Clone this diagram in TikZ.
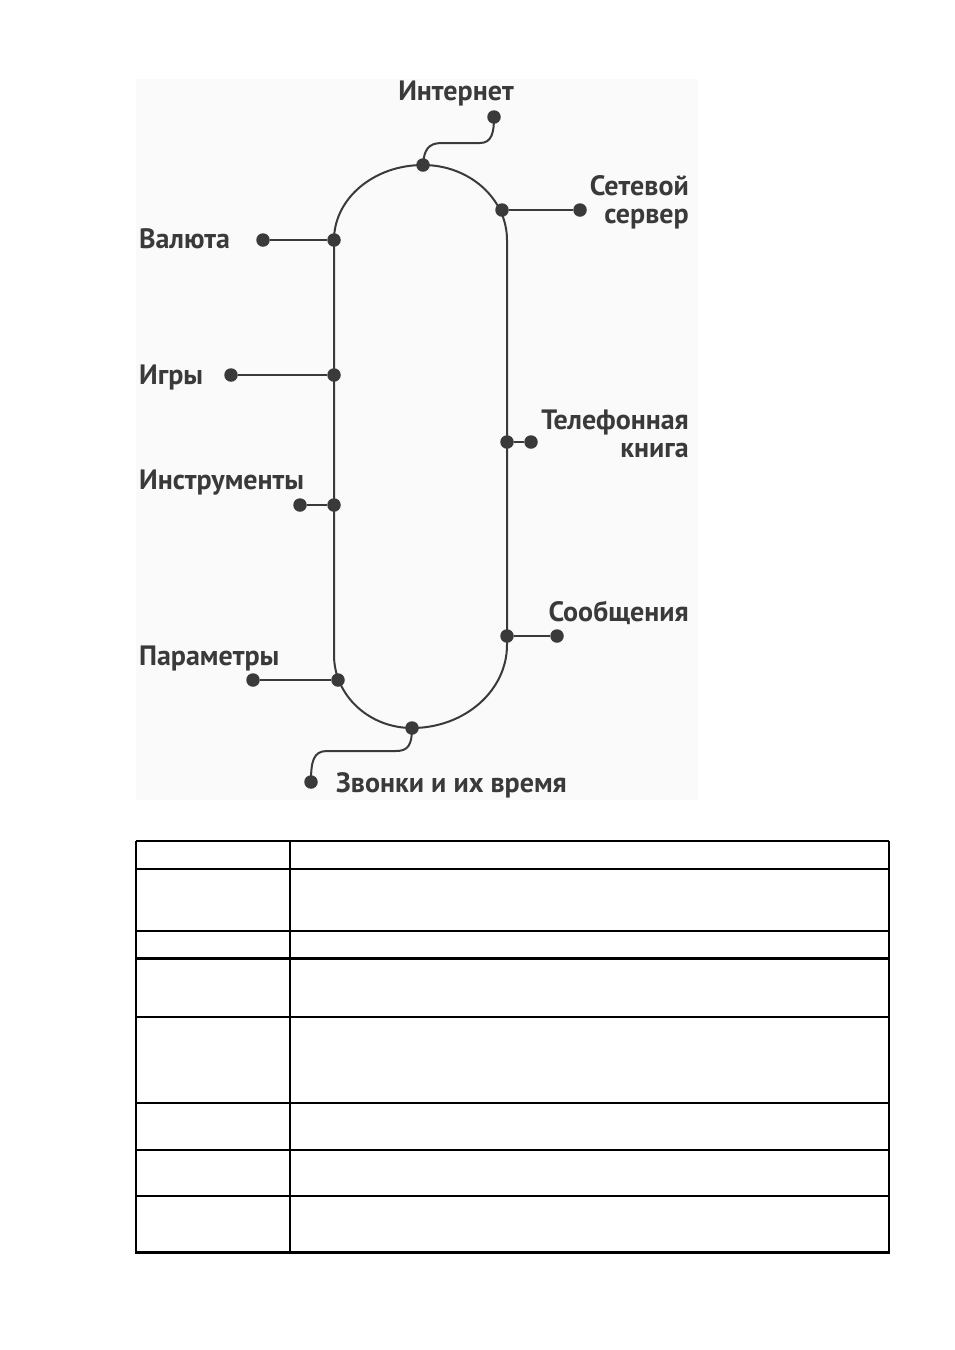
\documentclass[tikz,border=0pt]{standalone}
\usepackage{fontspec}
\setmainfont{PT Sans}
\definecolor{ink}{HTML}{3A3A3A}
\begin{document}
\begin{tikzpicture}[x=1pt,y=-1pt,
  track/.style={draw=ink, line width=2pt},
  link/.style={draw=ink, line width=2pt},
  dot/.style={circle, fill=ink, inner sep=0pt, minimum size=13.5pt},
  lbl/.style={font=\fontsize{28}{28}\selectfont\bfseries, text=ink, inner sep=0pt},
  thinrule/.style={draw=black, line width=1.3pt},
  thickrule/.style={draw=black, line width=3pt}]
\useasboundingbox (0,0) rectangle (954,1350);
\fill[black!2] (136,79) rectangle (698,800);

% track
\draw[track] (507,645) -- (507,240)
  .. controls (507,198.6) and (469.4,165) .. (423,165)
  .. controls (373.8,165) and (334,198.6) .. (334,240)
  -- (334,655)
  .. controls (334,695.3) and (368.9,728) .. (412,728)
  .. controls (464.5,728) and (507,690.8) .. (507,645);

% junction dots
\node[dot] (j-int) at (423,165) {};
\node[dot] (j-net) at (502,210) {};
\node[dot] (j-val) at (334,240) {};
\node[dot] (j-igr) at (334,375) {};
\node[dot] (j-tel) at (507,442) {};
\node[dot] (j-ins) at (334,505) {};
\node[dot] (j-soo) at (507,636) {};
\node[dot] (j-par) at (338,680) {};
\node[dot] (j-zv)  at (412,728) {};

% end dots
\node[dot] (e-int) at (494,117) {};
\node[dot] (e-net) at (580,210) {};
\node[dot] (e-val) at (263,240) {};
\node[dot] (e-igr) at (231,375) {};
\node[dot] (e-tel) at (531,442) {};
\node[dot] (e-ins) at (300,505) {};
\node[dot] (e-soo) at (557,636) {};
\node[dot] (e-par) at (253,680) {};
\node[dot] (e-zv)  at (311,782) {};

% connectors
\draw[link] (j-int.center) .. controls (424,150) and (428,143) .. (442,143)
  -- (480,143) .. controls (492,143) and (494,132) .. (e-int.center);
\draw[link] (j-net) -- (e-net);
\draw[link] (j-val) -- (e-val);
\draw[link] (j-igr) -- (e-igr);
\draw[link] (j-tel) -- (e-tel);
\draw[link] (j-ins) -- (e-ins);
\draw[link] (j-soo) -- (e-soo);
\draw[link] (j-par) -- (e-par);
\draw[link] (j-zv.center) .. controls (412,745) and (408,751) .. (396,751)
  -- (327,751) .. controls (313,751) and (311,762) .. (e-zv.center);

% labels
\node[lbl, anchor=base east, align=right] (l-net) at (689,223) {Сетевой\\сервер};
\node[lbl, anchor=base] (l-int) at (456,100) {Интернет};
\node[lbl, anchor=base west] (l-val) at (139,248) {Валюта};
\node[lbl, anchor=base west] (l-igr) at (139,384) {Игры};
\node[lbl, anchor=base east, align=right] (l-tel) at (689,457) {Телефонная\\книга};
\node[lbl, anchor=base west] (l-ins) at (139,489) {Инструменты};
\node[lbl, anchor=base east] (l-soo) at (689,621) {Сообщения};
\node[lbl, anchor=base west] (l-par) at (139,665) {Параметры};
\node[lbl, anchor=base west] (l-zv) at (336,792) {Звонки и их время};

% table
\draw[thinrule] (136,841) -- (889,841);
\draw[thinrule] (136,869) -- (889,869);
\draw[thinrule] (136,931) -- (889,931);
\draw[thickrule] (136,958) -- (889,958);
\draw[thinrule] (136,1017) -- (889,1017);
\draw[thinrule] (136,1103) -- (889,1103);
\draw[thinrule] (136,1150) -- (889,1150);
\draw[thinrule] (136,1196) -- (889,1196);
\draw[thickrule] (135,1252) -- (890,1252);
\draw[thinrule] (136,841) -- (136,1252);
\draw[thinrule] (290,841) -- (290,1252);
\draw[thinrule] (889,841) -- (889,1252);
\end{tikzpicture}
\end{document}
